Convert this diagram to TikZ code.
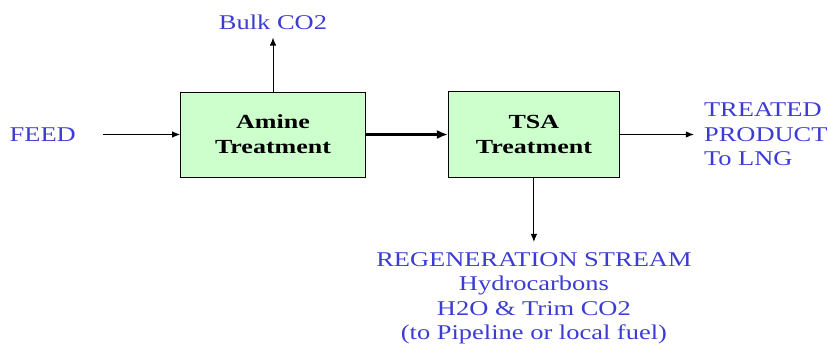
\documentclass[tikz,border=0pt]{standalone}
\usepackage{fontspec}
\setmainfont{Liberation Serif}
\newfontfamily\widefont{Liberation Serif}[FakeStretch=1.26]
\newfontfamily\widebold{Liberation Serif}[FakeStretch=1.3]
\usepackage{xcolor}
\usepackage{tikz}
\usetikzlibrary{arrows.meta,positioning}
\definecolor{flowblue}{RGB}{60,60,210}
\definecolor{boxgreen}{RGB}{204,255,204}

\begin{document}
\begin{tikzpicture}[
      x=1pt, y=-1pt,
      mybox/.style={
         rectangle,
         draw=black,
         fill=boxgreen,
         line width=0.9pt,
         inner sep=1pt,
         align=center,
         font=\widebold\fontsize{20}{25}\selectfont\bfseries},
      mylabel/.style={
         text=flowblue,
         inner sep=3pt,
         font=\widefont\fontsize{21}{24.5}\selectfont},
      myarrow/.style={-{Latex[length=8pt,width=6.5pt]}, line width=0.9pt},
      bigarrow/.style={-{Latex[length=11pt,width=9pt]}, line width=2.6pt},
      node distance=82pt
      ]
\useasboundingbox (0,0) rectangle (829,343);

\node[mybox,minimum width=185pt,minimum height=85pt] (amine) at (273,134.5) {Amine\\Treatment};

\node[mybox,minimum width=171pt,minimum height=86pt,right=of amine] (tsa) {TSA\\Treatment};

\node[mylabel,left=101pt of amine] (feed) {FEED};

\node[mylabel,above=59pt of amine] (bulk) {Bulk CO2};

\node[mylabel,right=81pt of tsa,align=left] (product) {TREATED\\PRODUCT\\To LNG};

\node[mylabel,below=71pt of tsa,align=center] (regen) {REGENERATION STREAM\\Hydrocarbons\\H2O \& Trim CO2\\(to Pipeline or local fuel)};

\draw[myarrow,shorten <=24pt] (feed) -- (amine);
\draw[myarrow,shorten >=5pt] (amine) -- (bulk);
\draw[bigarrow] (amine) -- (tsa);
\draw[myarrow,shorten >=7pt] (tsa) -- (product);
\draw[myarrow,shorten >=7pt] (tsa) -- (regen);

\end{tikzpicture}
\end{document}
